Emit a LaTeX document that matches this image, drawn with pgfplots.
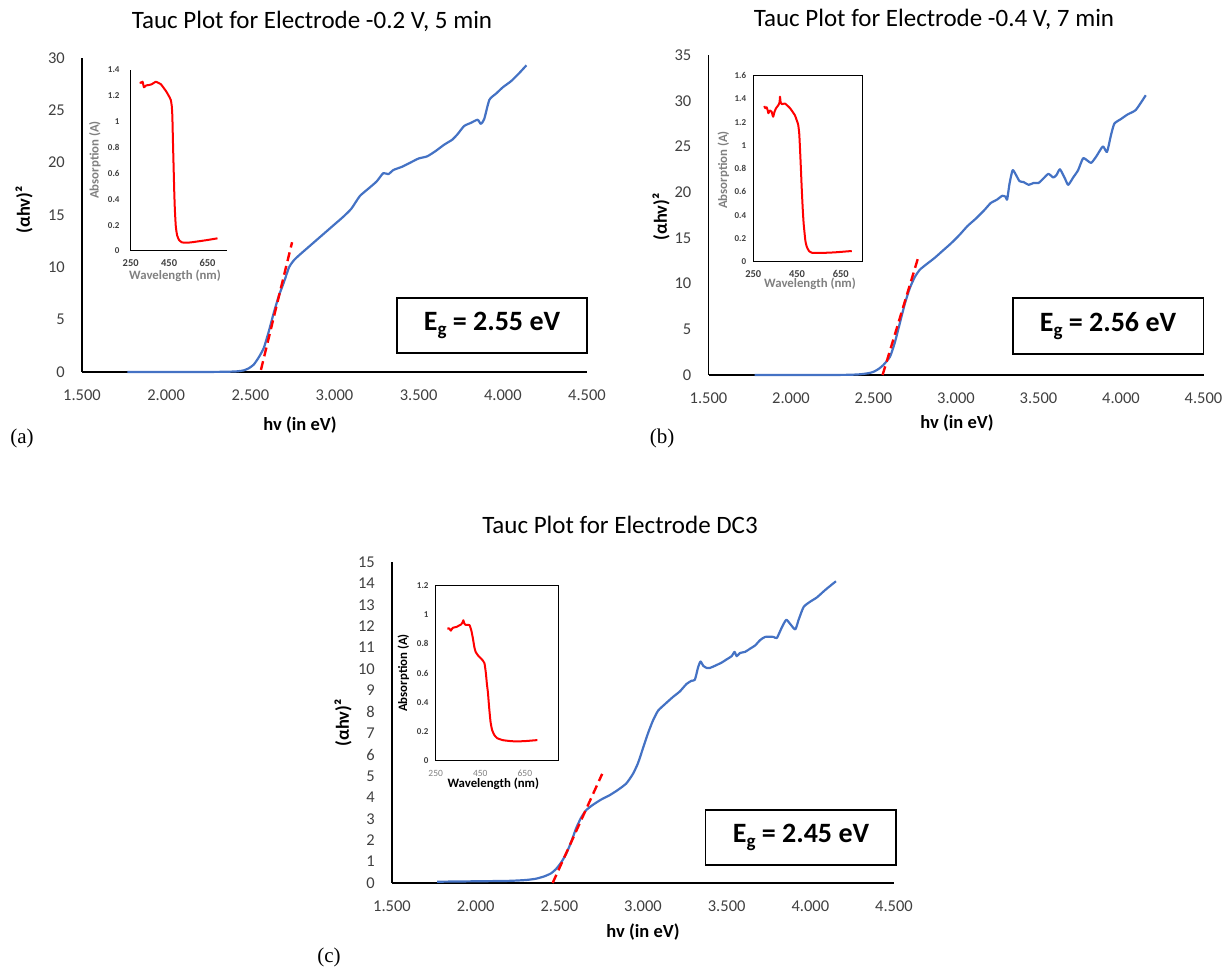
\documentclass[border=0pt]{standalone}
\usepackage{pgfplots}
\pgfplotsset{compat=1.18}
\usepackage{fontspec}
\setmainfont{Carlito}
\newfontfamily\tnr{Liberation Serif}
\definecolor{xlblue}{RGB}{68,114,196}
\definecolor{xlred}{RGB}{255,0,0}
\definecolor{tickgray}{RGB}{64,64,64}
\definecolor{titlegray}{RGB}{128,128,128}

\pgfplotsset{
 mainax/.style={scale only axis, anchor=south west, axis lines=left,
   axis line style={-, line width=1.3pt, black},
   xmin=1.5, xmax=4.5, ymin=0,
   xtick={1.5,2,2.5,3,3.5,4,4.5},
   xticklabels={1.500,2.000,2.500,3.000,3.500,4.000,4.500},
   major tick length=0pt,
   /pgf/number format/assume math mode=true,
   tick label style={font=\fontsize{16.5}{16.5}\selectfont, text=tickgray, inner sep=0pt},
   xticklabel style={anchor=center, yshift=-23pt},
   yticklabel style={anchor=east, xshift=-17pt},
   clip=false},
 blueline/.style={color=xlblue, line width=2.2pt, no marks, smooth, tension=0.35, line join=round},
 reddash/.style={color=xlred, line width=2.4pt, no marks, dash pattern=on 9pt off 5pt},
 inset/.style={scale only axis, anchor=south west,
   axis line style={-, line width=1pt, black},
   major tick length=0pt, xmin=250, xtick={250,450,650}, ymin=0,
   xticklabels={250,450,650},
   tick label style={inner sep=0pt},
   yticklabel style={anchor=east, xshift=-7pt, font=\fontsize{9}{9}\selectfont\bfseries, text=tickgray},
   xticklabel style={anchor=center, yshift=-12pt, font=\fontsize{10.5}{10.5}\selectfont\bfseries, text=tickgray},
   clip=false},
 redinset/.style={color=xlred, line width=2pt, no marks, line join=round, smooth, tension=0.3},
}

\begin{document}
\begin{tikzpicture}

% ---------------- (a) ----------------
\begin{axis}[mainax, at={(82pt,598pt)}, width=505pt, height=314pt, ymax=30,
  ytick={0,5,10,15,20,25,30}]
\addplot[blueline] coordinates {
(1.77,0) (2.0,0) (2.2,0) (2.35,0.02) (2.42,0.06) (2.46,0.15) (2.49,0.35) (2.52,0.7)
(2.55,1.4) (2.58,2.3) (2.61,3.9) (2.64,5.7) (2.67,7.3) (2.70,8.6) (2.73,10.0) (2.76,10.7)
(2.80,11.3) (2.85,12.0) (2.90,12.7) (2.95,13.4) (3.00,14.1) (3.05,14.8) (3.10,15.6)
(3.15,16.8) (3.20,17.5) (3.25,18.2) (3.29,19.0) (3.32,18.9) (3.35,19.3) (3.40,19.6)
(3.45,20.0) (3.50,20.4) (3.55,20.6) (3.60,21.1) (3.65,21.7) (3.70,22.2) (3.73,22.7)
(3.77,23.5) (3.81,23.8) (3.85,24.1) (3.87,23.7) (3.89,24.2) (3.92,26.0) (3.96,26.6)
(4.00,27.2) (4.05,27.8) (4.10,28.6) (4.14,29.3)};
\addplot[reddash] coordinates {(2.563,0.2) (2.748,12.4)};
\end{axis}

\begin{axis}[inset, at={(130.7pt,719pt)}, width=96pt, height=181pt, axis lines=left,
  axis line style={-, line width=1pt, black},
  xmax=750, ymax=1.4, ytick={0,0.2,0.4,0.6,0.8,1,1.2,1.4},
  yticklabels={0,0.2,0.4,0.6,0.8,1,1.2,1.4},
  yticklabel style={xshift=-4pt}]
\addplot[redinset] coordinates {
(297,1.305) (305,1.30) (312,1.31) (319,1.266) (330,1.28) (345,1.284) (360,1.29)
(380,1.309) (395,1.30) (407,1.29) (420,1.265) (436,1.232) (452,1.19) (459,1.168)
(464,1.12) (467,1.04) (470,0.85) (474,0.62) (477,0.45) (480,0.32) (485,0.188)
(492,0.12) (502,0.085) (515,0.068) (528,0.064) (560,0.066) (590,0.072) (650,0.085) (702,0.098)};
\end{axis}

% ---------------- (b) ----------------
\begin{axis}[mainax, at={(708.5pt,595pt)}, width=495pt, height=320pt, ymax=35,
  ytick={0,5,10,15,20,25,30,35}]
\addplot[blueline] coordinates {
(1.78,0) (2.0,0) (2.2,0) (2.35,0.02) (2.42,0.08) (2.47,0.2) (2.50,0.35) (2.53,0.65)
(2.56,1.1) (2.60,2.0) (2.63,3.6) (2.66,5.7) (2.69,7.8) (2.72,9.5) (2.75,10.7) (2.78,11.5)
(2.82,12.1) (2.87,12.8) (2.92,13.6) (2.97,14.4) (3.02,15.3) (3.07,16.3) (3.12,17.1)
(3.17,18.0) (3.21,18.8) (3.25,19.2) (3.28,19.6) (3.30,19.5) (3.31,19.2) (3.325,21.0)
(3.343,22.4) (3.36,22.0) (3.385,21.2) (3.41,21.1) (3.44,20.8) (3.47,21.0) (3.50,21.0)
(3.53,21.5) (3.56,22.0) (3.59,21.6) (3.61,21.9) (3.63,22.5) (3.66,21.5) (3.68,20.8)
(3.71,21.6) (3.74,22.4) (3.77,23.7) (3.80,23.4) (3.82,23.2) (3.85,23.9) (3.89,25.0)
(3.915,24.4) (3.94,26.3) (3.96,27.5) (4.00,28.0) (4.04,28.5) (4.09,29.0) (4.15,30.6)};
\addplot[reddash] coordinates {(2.555,0) (2.77,12.8)};
\end{axis}

\begin{axis}[inset, at={(753.3pt,708.3pt)}, width=109.4pt, height=186pt,
  xmax=750, ymax=1.6, ytick={0,0.2,0.4,0.6,0.8,1,1.2,1.4,1.6},
  yticklabels={0,0.2,0.4,0.6,0.8,1,1.2,1.4,1.6}]
\addplot[redinset] coordinates {
(300,1.339) (305,1.32) (311,1.328) (316,1.30) (319,1.277) (326,1.30) (334,1.29)
(338,1.26) (341,1.247) (347,1.29) (354,1.32) (365,1.348) (370,1.37) (372,1.42)
(375,1.37) (380,1.355) (395,1.36) (418,1.32) (440,1.26) (448,1.219) (455,1.18)
(460,1.10) (464,0.95) (468,0.78) (471,0.645) (476,0.45) (480,0.33) (483,0.27)
(488,0.18) (494,0.13) (505,0.09) (517,0.077) (555,0.075) (620,0.08) (700,0.092)};
\end{axis}

% ---------------- (c) ----------------
\begin{axis}[mainax, at={(392pt,87pt)}, width=502pt, height=321pt, ymax=15,
  ytick={0,1,2,3,4,5,6,7,8,9,10,11,12,13,14,15}]
\addplot[blueline] coordinates {
(1.77,0.06) (2.0,0.08) (2.2,0.1) (2.3,0.14) (2.36,0.2) (2.41,0.31) (2.45,0.45)
(2.48,0.65) (2.51,0.95) (2.54,1.35) (2.57,1.9) (2.60,2.55) (2.63,3.05) (2.66,3.4)
(2.70,3.65) (2.75,3.9) (2.80,4.1) (2.85,4.35) (2.90,4.65) (2.94,5.1) (2.97,5.6)
(3.00,6.3) (3.03,7.0) (3.06,7.6) (3.09,8.05) (3.13,8.35) (3.18,8.7) (3.22,8.95)
(3.26,9.3) (3.29,9.45) (3.31,9.5) (3.33,10.1) (3.344,10.35) (3.36,10.15) (3.38,10.05)
(3.40,10.05) (3.43,10.15) (3.47,10.3) (3.50,10.45) (3.53,10.6) (3.547,10.8) (3.56,10.6)
(3.58,10.75) (3.61,10.8) (3.64,10.95) (3.67,11.1) (3.70,11.35) (3.73,11.5) (3.78,11.5)
(3.80,11.45) (3.83,11.95) (3.856,12.3) (3.88,12.1) (3.91,11.85) (3.93,12.3) (3.96,12.9)
(4.00,13.15) (4.04,13.35) (4.09,13.7) (4.153,14.1)};
\addplot[reddash] coordinates {(2.46,0) (2.756,5.1)};
\end{axis}

\begin{axis}[inset, at={(435.7pt,209.3pt)}, width=122.6pt, height=175.4pt,
  xmax=800, ymax=1.2, ytick={0,0.2,0.4,0.6,0.8,1,1.2},
  yticklabels={0,0.2,0.4,0.6,0.8,1,1.2},
  xticklabel style={yshift=-0.5pt, font=\fontsize{9.5}{9.5}\selectfont\mdseries, text=titlegray}]
\addplot[redinset] coordinates {
(302,0.904) (310,0.905) (318,0.89) (322,0.90) (328,0.91) (343,0.915) (355,0.925)
(364,0.932) (370,0.945) (374,0.961) (378,0.94) (383,0.93) (395,0.93) (402,0.927)
(410,0.89) (417,0.836) (423,0.78) (429,0.745) (440,0.72) (450,0.704) (460,0.688)
(469,0.665) (475,0.60) (480,0.52) (484,0.471) (490,0.36) (496,0.266) (503,0.21)
(513,0.176) (525,0.155) (550,0.141) (580,0.135) (609,0.132) (650,0.134) (706,0.141)};
\end{axis}

% ---------------- texts ----------------
\def\titlefont{\fontsize{25}{30}\selectfont}
\def\labfont{\fontsize{18.5}{22}\selectfont\bfseries}
\def\insfont{\fontsize{12.8}{15}\selectfont\bfseries}
\def\egfont{\fontsize{28}{33}\selectfont\bfseries}
\def\egsub{\raisebox{-5pt}{\fontsize{19}{19}\selectfont g}}

\node at (312pt,949pt) {\titlefont Tauc Plot for Electrode -0.2 V, 5 min};
\node at (934pt,951pt) {\titlefont Tauc Plot for Electrode -0.4 V, 7 min};
\node at (620pt,445pt) {\titlefont Tauc Plot for Electrode DC3};

\node at (300pt,545pt) {\labfont hv (in eV)};
\node at (957pt,547pt) {\labfont hv (in eV)};
\node at (643pt,38pt) {\labfont hv (in eV)};
\node[rotate=90] at (24pt,760pt) {\labfont (αhv)²};
\node[rotate=90] at (661pt,753pt) {\labfont (αhv)²};
\node[rotate=90] at (343pt,247pt) {\labfont (αhv)²};

\node[rotate=90, text=titlegray] at (95pt,810pt) {\insfont Absorption (A)};
\node[text=titlegray] at (175pt,694pt) {\insfont Wavelength (nm)};
\node[rotate=90, text=titlegray] at (723.3pt,800pt) {\insfont Absorption (A)};
\node[text=titlegray] at (810pt,686pt) {\insfont Wavelength (nm)};
\node[rotate=90] at (403.3pt,297pt) {\insfont Absorption (A)};
\node at (493.3pt,186pt) {\insfont Wavelength (nm)};

\draw[line width=1.3pt] (397pt,617pt) rectangle (587pt,672pt);
\node at (492pt,644.5pt) {\egfont E\egsub{} = 2.55 eV};
\draw[line width=1.3pt] (1013pt,616pt) rectangle (1203.7pt,672pt);
\node at (1108pt,644pt) {\egfont E\egsub{} = 2.56 eV};
\draw[line width=1.3pt] (705.8pt,105pt) rectangle (896pt,160pt);
\node at (801pt,132.5pt) {\egfont E\egsub{} = 2.45 eV};

\node at (22pt,532pt) {\tnr\fontsize{21}{24}\selectfont (a)};
\node at (662pt,532pt) {\tnr\fontsize{21}{24}\selectfont (b)};
\node at (329pt,13pt) {\tnr\fontsize{21}{24}\selectfont (c)};

\pgfresetboundingbox
\useasboundingbox (0pt,0pt) rectangle (1223pt,970pt);
\end{tikzpicture}
\end{document}
